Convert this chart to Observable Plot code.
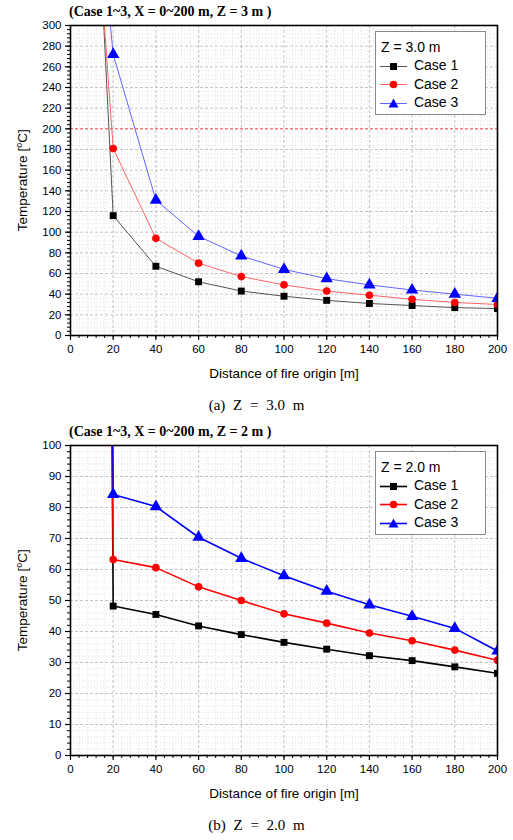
<!DOCTYPE html>
<html>
<head>
<meta charset="utf-8">
<script src="https://cdn.jsdelivr.net/npm/d3@7"></script>
<script src="https://cdn.jsdelivr.net/npm/@observablehq/plot@0.6"></script>
<style>
  body { margin: 0; background: #fff; }
  #wrap { position: relative; width: 513px; height: 840px; overflow: hidden; font-family: "Liberation Sans", Arial, sans-serif; }
  .panel { position: absolute; left: 0; width: 513px; }
  .title { position: absolute; left: 69px; font-family: "Liberation Serif", "Times New Roman", serif; font-weight: bold; font-size: 14px; color: #000; white-space: pre; }
  .caption { position: absolute; left: 0; width: 513px; text-align: center; font-family: "Liberation Serif", "Times New Roman", serif; font-size: 15px; word-spacing: 4px; color: #000; }
  .ylab { position: absolute; font-size: 13.5px; color: #000; transform: rotate(-90deg); transform-origin: center; white-space: nowrap; }
  .legend { position: absolute; background: #fff; border: 1px solid #888; font-size: 14px; color: #000; }
  .legend .row { position: absolute; left: 4px; height: 18px; line-height: 18px; white-space: nowrap; }
  .legend svg { vertical-align: middle; }
</style>
</head>
<body>
<div id="wrap"></div>
<script>
// ---------------- data ----------------
const distances = [0, 20, 40, 60, 80, 100, 120, 140, 160, 180, 200];
const caseNames = ["Case 1", "Case 2", "Case 3"];

// (a) Z = 3.0 m  (x = 0 values are off-scale, above the plot)
const z3Case1 = [950, 116, 67, 52, 43, 38, 34, 31, 29, 27, 26];
const z3Case2 = [760, 181, 94, 70, 57, 49, 43, 39, 35, 32, 30];
const z3Case3 = [700, 272, 131, 96, 77, 64, 55, 49, 44, 40, 36];

// (b) Z = 2.0 m  (x = 0 values are off-scale, above the plot)
const z2Case1 = [2000, 48.2, 45.5, 41.8, 39.0, 36.5, 34.3, 32.2, 30.6, 28.6, 26.5];
const z2Case2 = [2000, 63.2, 60.6, 54.4, 50.0, 45.7, 42.7, 39.5, 37.0, 34.0, 30.7];
const z2Case3 = [2000, 84.2, 80.3, 70.4, 63.6, 58.0, 53.0, 48.6, 44.9, 41.0, 33.7];

const xTicks = d3.range(0, 201, 20);
const xMinor = d3.range(0, 201, 4);
const z3YTicks = d3.range(0, 301, 20);
const z3YMinor = d3.range(0, 301, 4);
const z2YTicks = d3.range(0, 101, 10);
const z2YMinor = d3.range(0, 101, 2);
const limitLine = [200];

const markerColors = ["#000000", "#ff0000", "#0000ff"];
const symbols = ["square", "circle", "triangle"];

// ---------------- helpers ----------------
function buildRows(series) {
  const rows = [];
  series.forEach((vals, i) => vals.forEach((v, j) => rows.push({x: distances[j], y: v, c: caseNames[i]})));
  return rows;
}

function chart({rows, yDomain, yTicks, yMinor, lineColors, lineWidth, limit}) {
  const marks = [
    Plot.ruleX(xMinor.filter(d => d % 20 !== 0), {stroke: "#d8d8d8", strokeDasharray: "1,2", strokeWidth: 0.8}),
    Plot.ruleY(yMinor.filter(d => !yTicks.includes(d)), {stroke: "#d8d8d8", strokeDasharray: "1,2", strokeWidth: 0.8}),
    Plot.ruleX(xTicks, {stroke: "#bdbdbd", strokeDasharray: "3,2", strokeWidth: 0.9}),
    Plot.ruleY(yTicks, {stroke: "#bdbdbd", strokeDasharray: "3,2", strokeWidth: 0.9}),
  ];
  if (limit) marks.push(Plot.ruleY(limit, {stroke: "#ff5555", strokeDasharray: "3,2", strokeWidth: 1}));
  caseNames.forEach((c, i) => {
    const d = rows.filter(r => r.c === c);
    marks.push(Plot.line(d, {x: "x", y: "y", stroke: lineColors[i], strokeWidth: lineWidth, clip: true}));
  });
  caseNames.forEach((c, i) => {
    const d = rows.filter(r => r.c === c);
    marks.push(Plot.dot(d, {x: "x", y: "y", symbol: () => symbols[i], fill: markerColors[i], stroke: "none",
      r: i === 2 ? 4.6 : (i === 0 ? 3.9 : 3.8), clip: true}));
  });
  marks.push(
    Plot.axisX({ticks: xMinor, tickSize: 3, tickFormat: () => "", stroke: "#000", strokeWidth: 1, label: null}),
    Plot.axisX({ticks: xTicks, tickSize: 5, tickPadding: 4, tickFormat: d3.format("d"), fontSize: 11.5, stroke: "#000", strokeWidth: 1.2, label: null}),
    Plot.axisY({ticks: yMinor, tickSize: 3, tickFormat: () => "", stroke: "#000", strokeWidth: 1, label: null}),
    Plot.axisY({ticks: yTicks, tickSize: 5, tickPadding: 4, tickFormat: d3.format("d"), fontSize: 11.5, stroke: "#000", strokeWidth: 1.2, label: null}),
    Plot.text(["Distance of fire origin [m]"], {frameAnchor: "bottom", dy: 42, fontSize: 13.5, fill: "#000"}),
    Plot.frame({stroke: "#000", strokeWidth: 1.6})
  );
  return Plot.plot({
    width: 513, height: 396,
    marginLeft: 70, marginRight: 16, marginTop: 25, marginBottom: 61,
    x: {domain: [0, 200], insetLeft: 0, insetRight: 0, label: null},
    y: {domain: yDomain, insetTop: 0, insetBottom: 0, label: null},
    style: {fontFamily: "'Liberation Sans', Arial, sans-serif", background: "#fff", color: "#000", overflow: "visible"},
    marks
  });
}

function legendRow(i, label, lineColor, lw) {
  const shapes = [
    `<rect x="10" y="5" width="7" height="7" fill="${markerColors[0]}"/>`,
    `<circle cx="13.5" cy="8.5" r="3.8" fill="${markerColors[1]}"/>`,
    `<path d="M13.5,3.5 L18.5,12.5 L8.5,12.5 Z" fill="${markerColors[2]}"/>`
  ];
  return `<svg width="30" height="17"><line x1="0" y1="8.5" x2="27" y2="8.5" stroke="${lineColor}" stroke-width="${lw}"/>${shapes[i]}</svg> ${label}`;
}

function addPanel(top, opts) {
  const wrap = document.getElementById("wrap");
  const p = document.createElement("div");
  p.className = "panel";
  p.style.top = top + "px";
  p.appendChild(chart(opts));
  wrap.appendChild(p);

  const t = document.createElement("div");
  t.className = "title";
  t.style.top = (top + 4) + "px";
  t.textContent = opts.title;
  wrap.appendChild(t);

  const yl = document.createElement("div");
  yl.className = "ylab";
  yl.innerHTML = "Temperature [<sup style='font-size:9px'>o</sup>C]";
  wrap.appendChild(yl);
  const w = yl.offsetWidth, h = yl.offsetHeight;
  yl.style.left = (22 - w / 2) + "px";
  yl.style.top = (top + 180 - h / 2) + "px";

  const lg = document.createElement("div");
  lg.className = "legend";
  lg.style.left = "375px";
  lg.style.top = (top + opts.legendTop) + "px";
  lg.style.width = "109px";
  lg.style.height = opts.legendHeight + "px";
  let html = `<div class="row" style="top:${opts.rowTop}px;left:5px">${opts.legendTitle}</div>`;
  caseNames.forEach((c, i) => {
    html += `<div class="row" style="top:${opts.rowTop + 18.3 * (i + 1)}px">${legendRow(i, c, opts.lineColors[i], Math.max(1, opts.lineWidth))}</div>`;
  });
  lg.innerHTML = html;
  wrap.appendChild(lg);

  const cap = document.createElement("div");
  cap.className = "caption";
  cap.style.top = (top + 397) + "px";
  cap.textContent = opts.caption;
  wrap.appendChild(cap);
}

addPanel(0, {
  rows: buildRows([z3Case1, z3Case2, z3Case3]),
  yDomain: [0, 300], yTicks: z3YTicks, yMinor: z3YMinor,
  lineColors: ["#555555", "#ff6464", "#6464ff"], lineWidth: 1,
  limit: limitLine,
  title: "(Case 1~3, X = 0~200 m, Z = 3 m )",
  legendTitle: "Z = 3.0 m", legendTop: 31, legendHeight: 82, rowTop: 6,
  caption: "(a) Z = 3.0 m"
});

addPanel(420, {
  rows: buildRows([z2Case1, z2Case2, z2Case3]),
  yDomain: [0, 100], yTicks: z2YTicks, yMinor: z2YMinor,
  lineColors: ["#000000", "#ff0000", "#0000ff"], lineWidth: 1.6,
  limit: null,
  title: "(Case 1~3, X = 0~200 m, Z = 2 m )",
  legendTop: 31, legendHeight: 82, rowTop: 6,
  legendTitle: "Z = 2.0 m",
  caption: "(b) Z = 2.0 m"
});
</script>
</body>
</html>
